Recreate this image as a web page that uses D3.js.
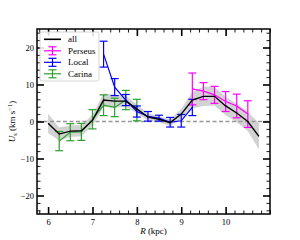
<!DOCTYPE html>
<html>
<head>
<meta charset="utf-8">
<script src="https://cdn.jsdelivr.net/npm/d3@7"></script>
<style>
  body { margin: 0; background: #fff; }
  svg { display: block; }
  svg text { font-family: "Liberation Serif", "DejaVu Serif", serif !important; fill: #000; }
</style>
</head>
<body>
<div id="chart"></div>
<script>
// "all" smoothed profile with its uncertainty band
const allR = [6.0, 6.25, 6.5, 6.75, 7.0, 7.25, 7.5, 7.75, 8.0, 8.25, 8.5, 8.75, 9.0, 9.25, 9.5, 9.75, 10.0, 10.25, 10.5, 10.75];
const allU = [-0.5, -3.4, -2.6, -2.5, 0.3, 5.8, 5.5, 5.5, 3.4, 1.2, 0.6, -0.3, 2.0, 5.8, 6.8, 6.8, 4.2, 2.3, 0.0, -4.0];
const allErr = [2.6, 1.8, 1.6, 1.5, 1.5, 1.8, 1.8, 1.5, 1.2, 1.0, 0.8, 0.9, 1.4, 2.2, 2.6, 2.5, 2.5, 2.5, 2.6, 3.6];

// spiral arm samples
const perseusR = [9.25, 9.5, 9.75, 10.0, 10.25, 10.5];
const perseusU = [8.8, 8.2, 7.2, 5.4, 4.2, 2.0];
const perseusErr = [4.3, 2.3, 2.3, 2.7, 3.2, 3.6];

const localR = [7.25, 7.5, 7.75, 8.0, 8.25, 8.5, 8.75, 9.0, 9.25];
const localU = [18.2, 9.3, 5.8, 2.7, 1.4, 0.9, -0.2, 0.2, 3.8];
const localErr = [3.5, 2.3, 1.5, 1.5, 1.3, 0.8, 1.3, 1.7, 2.2];

const carinaR = [6.25, 6.5, 6.75, 7.0, 7.25, 7.5, 7.75, 8.0];
const carinaU = [-5.3, -2.9, -2.8, 0.6, 4.4, 3.8, 5.8, 3.1];
const carinaErr = [2.6, 2.3, 2.3, 2.6, 2.8, 2.5, 2.6, 2.9];

const xMajor = [6, 7, 8, 9, 10];
const yMajor = [-20, -10, 0, 10, 20];

const width = 300, height = 240;
const margin = { top: 29, right: 30, bottom: 26, left: 37 };

const svg = d3.select("#chart").append("svg").attr("width", width).attr("height", height);

const x = d3.scaleLinear().domain([5.75, 11.0]).range([margin.left, width - margin.right]);
const y = d3.scaleLinear().domain([-25, 25]).range([height - margin.bottom, margin.top]);

const zip = (rs, us, es) => rs.map((r, i) => ({ r: r, u: us[i], e: es ? es[i] : 0 }));
const allData = zip(allR, allU, allErr);

const plot = svg.append("g");

// band
plot.append("path")
    .datum(allData)
    .attr("fill", "#d2d2d2")
    .attr("d", d3.area().x(d => x(d.r)).y0(d => y(d.u - d.e)).y1(d => y(d.u + d.e)));

// zero line
plot.append("line")
    .attr("x1", x.range()[0]).attr("x2", x.range()[1])
    .attr("y1", y(0)).attr("y2", y(0))
    .attr("stroke", "#999").attr("stroke-width", 1.3).attr("stroke-dasharray", "4,2.5");

const line = d3.line().x(d => x(d.r)).y(d => y(d.u));

function drawSeries(data, color) {
    const g = plot.append("g").attr("stroke", color).attr("fill", "none").attr("stroke-width", 1.2);
    g.append("path").datum(data).attr("d", line);
    const bars = g.selectAll(".eb").data(data).enter().append("g");
    bars.append("line").attr("x1", d => x(d.r)).attr("x2", d => x(d.r))
        .attr("y1", d => y(d.u - d.e)).attr("y2", d => y(d.u + d.e));
    bars.append("line").attr("x1", d => x(d.r) - 4).attr("x2", d => x(d.r) + 4)
        .attr("y1", d => y(d.u + d.e)).attr("y2", d => y(d.u + d.e));
    bars.append("line").attr("x1", d => x(d.r) - 4).attr("x2", d => x(d.r) + 4)
        .attr("y1", d => y(d.u - d.e)).attr("y2", d => y(d.u - d.e));
}

drawSeries(zip(carinaR, carinaU, carinaErr), "#2ca02c");
drawSeries(zip(localR, localU, localErr), "#0000ff");
drawSeries(zip(perseusR, perseusU, perseusErr), "#ff00ff");

plot.append("path").datum(allData)
    .attr("fill", "none").attr("stroke", "#000").attr("stroke-width", 1.4)
    .attr("d", line);

// axes: inward ticks on all sides
const xMinor = d3.range(5.8, 11.01, 0.2).map(v => +v.toFixed(1)).filter(v => !xMajor.includes(v));
const yMinor = d3.range(-24, 25, 2).filter(v => !yMajor.includes(v));

function styleAxis(g, w) {
    g.attr("font-family", null);
    g.select(".domain").remove();
    g.selectAll(".tick line").attr("stroke", "#000").attr("stroke-width", w);
    g.selectAll(".tick text").style("font-size", "8.5px");
}

const y0 = y.range()[0], y1 = y.range()[1];
const x0 = x.range()[0], x1 = x.range()[1];

svg.append("g").attr("transform", `translate(0,${y0})`)
    .call(d3.axisBottom(x).tickValues(xMajor).tickSize(-7).tickPadding(5).tickFormat(d3.format("d")))
    .call(g => styleAxis(g, 1.6));
svg.append("g").attr("transform", `translate(0,${y0})`)
    .call(d3.axisBottom(x).tickValues(xMinor).tickSize(-3.5).tickFormat(""))
    .call(g => styleAxis(g, 0.9));
svg.append("g").attr("transform", `translate(0,${y1})`)
    .call(d3.axisTop(x).tickValues(xMajor).tickSize(-7).tickFormat(""))
    .call(g => styleAxis(g, 1.6));
svg.append("g").attr("transform", `translate(0,${y1})`)
    .call(d3.axisTop(x).tickValues(xMinor).tickSize(-3.5).tickFormat(""))
    .call(g => styleAxis(g, 0.9));

svg.append("g").attr("transform", `translate(${x0},0)`)
    .call(d3.axisLeft(y).tickValues(yMajor).tickSize(-7).tickPadding(3).tickFormat(d => d < 0 ? "\u2212" + Math.abs(d) : d))
    .call(g => styleAxis(g, 1.6));
svg.append("g").attr("transform", `translate(${x0},0)`)
    .call(d3.axisLeft(y).tickValues(yMinor).tickSize(-3.5).tickFormat(""))
    .call(g => styleAxis(g, 0.9));
svg.append("g").attr("transform", `translate(${x1},0)`)
    .call(d3.axisRight(y).tickValues(yMajor).tickSize(-7).tickFormat(""))
    .call(g => styleAxis(g, 1.6));
svg.append("g").attr("transform", `translate(${x1},0)`)
    .call(d3.axisRight(y).tickValues(yMinor).tickSize(-3.5).tickFormat(""))
    .call(g => styleAxis(g, 0.9));

svg.append("rect")
    .attr("x", x0).attr("y", y1).attr("width", x1 - x0).attr("height", y0 - y1)
    .attr("fill", "none").attr("stroke", "#000").attr("stroke-width", 1.5);

// axis labels
svg.append("text")
    .attr("x", (x0 + x1) / 2).attr("y", 234)
    .attr("text-anchor", "middle").style("font-size", "9px")
    .html('<tspan font-style="italic">R</tspan> (kpc)');

svg.append("text")
    .attr("transform", `translate(15,${(y0 + y1) / 2}) rotate(-90)`)
    .attr("text-anchor", "middle").style("font-size", "9px")
    .html('<tspan font-style="italic">U</tspan><tspan font-size="6.5px" dy="2">s</tspan><tspan dy="-2"> (km s</tspan><tspan font-size="6.5px" dy="-3">\u22121</tspan><tspan dy="3">)</tspan>');

// legend
const legendItems = [
    { name: "all", color: "#000", bar: false },
    { name: "Perseus", color: "#ff00ff", bar: true },
    { name: "Local", color: "#0000ff", bar: true },
    { name: "Carina", color: "#2ca02c", bar: true }
];
const legend = svg.append("g");
legend.append("rect")
    .attr("x", 40).attr("y", 32).attr("width", 59).attr("height", 49).attr("rx", 2)
    .attr("fill", "#fff").attr("fill-opacity", 0.85).attr("stroke", "#ccc").attr("stroke-width", 0.8);
legendItems.forEach((d, i) => {
    const ly = 39.3 + i * 11.5;
    const g = legend.append("g").attr("stroke", d.color).attr("stroke-width", d.bar ? 1.2 : 1.6);
    g.append("line").attr("x1", 44).attr("x2", 61).attr("y1", ly).attr("y2", ly);
    if (d.bar) {
        g.append("line").attr("x1", 52.5).attr("x2", 52.5).attr("y1", ly - 4).attr("y2", ly + 4);
        g.append("line").attr("x1", 48.5).attr("x2", 56.5).attr("y1", ly - 4).attr("y2", ly - 4);
        g.append("line").attr("x1", 48.5).attr("x2", 56.5).attr("y1", ly + 4).attr("y2", ly + 4);
    }
    legend.append("text").attr("x", 68).attr("y", ly + 3).style("font-size", "9px").text(d.name);
});
</script>
</body>
</html>
